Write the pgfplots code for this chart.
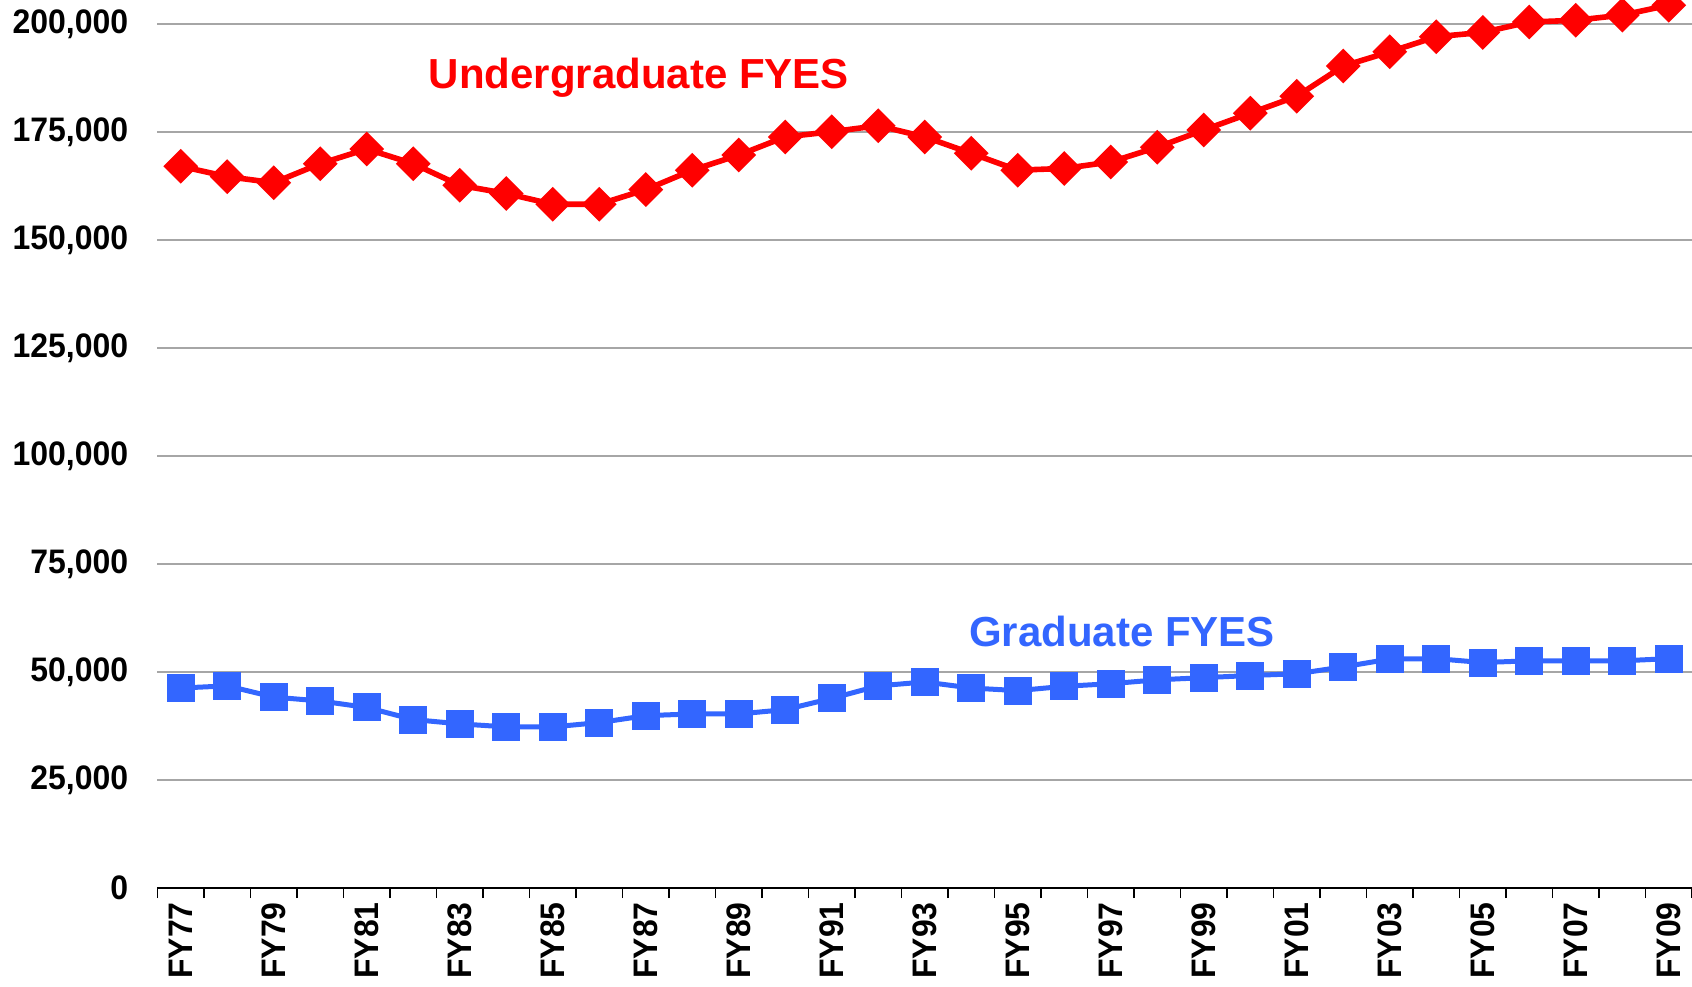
\documentclass[border=0pt]{standalone}
\usepackage{fontspec}
\setmainfont{Liberation Sans}
\newfontfamily\tickfont[FakeStretch=0.94]{Liberation Sans}
\usepackage{pgfplots}
\pgfplotsset{compat=1.18}

\definecolor{ugred}{RGB}{255,0,0}
\definecolor{grblue}{RGB}{51,102,255}
\definecolor{gridgray}{RGB}{166,166,166}

\begin{document}
\begin{tikzpicture}
\begin{axis}[
  scale only axis,
  width=767.25pt,
  height=444pt,
  xmin=-0.5, xmax=32.5,
  ymin=0, ymax=205600,
  axis x line*=bottom,
  axis y line*=left,
  x axis line style={black, line width=1pt},
  y axis line style={draw=none},
  xtick={0,2,...,32},
  xticklabels={FY77,FY79,FY81,FY83,FY85,FY87,FY89,FY91,FY93,FY95,FY97,FY99,FY01,FY03,FY05,FY07,FY09},
  minor xtick={-0.5,0.5,...,32.5},
  tick align=outside,
  major tick length=0pt,
  minor tick length=5pt,
  minor x tick style={black, line width=0.8pt},
  major x tick style={draw=none},
  ytick={0,25000,50000,75000,100000,125000,150000,175000,200000},
  yticklabels={0,{25,000},{50,000},{75,000},{100,000},{125,000},{150,000},{175,000},{200,000}},
  major y tick style={draw=none},
  ymajorgrids=true,
  grid style={gridgray, line width=0.9pt},
  yticklabel style={font=\tickfont\bfseries\fontsize{17}{19}\selectfont, anchor=east, inner sep=0pt},
  yticklabel shift=14.5pt,
  xticklabel style={font=\tickfont\bfseries\fontsize{17}{19}\selectfont, rotate=90, anchor=east, inner sep=0pt},
  xticklabel shift=7pt,
]
\addplot[color=ugred, line width=2.8pt, mark=square*, mark size=4.75pt, mark options={rotate=45, solid}] coordinates {
  (0,167100) (1,164700) (2,163300) (3,167700) (4,171100) (5,167700) (6,162700)
  (7,160800) (8,158300) (9,158300) (10,161700) (11,166200) (12,169700) (13,173900)
  (14,175100) (15,176500) (16,173900) (17,170100) (18,166200) (19,166600) (20,168100)
  (21,171500) (22,175500) (23,179400) (24,183300) (25,190300) (26,193600) (27,197100)
  (28,198100) (29,200500) (30,200900) (31,202100) (32,204400)
};
\addplot[color=grblue, line width=2.5pt, mark=square*, mark size=5.75pt, mark options={solid}] coordinates {
  (0,46300) (1,46800) (2,44200) (3,43300) (4,41800) (5,39000) (6,38000)
  (7,37300) (8,37300) (9,38300) (10,39900) (11,40300) (12,40300) (13,41300)
  (14,43900) (15,46800) (16,47700) (17,46300) (18,45700) (19,46700) (20,47300)
  (21,48200) (22,48700) (23,49200) (24,49600) (25,51200) (26,53000) (27,53100)
  (28,52200) (29,52600) (30,52600) (31,52600) (32,53100)
};
\node[text=ugred, font=\bfseries\fontsize{21}{24}\selectfont] at (axis cs:9.85,187500) {Undergraduate FYES};
\node[text=grblue, font=\bfseries\fontsize{21}{24}\selectfont] at (axis cs:20.24,59500) {Graduate FYES};
\end{axis}
\pgfresetboundingbox
\path ([shift={(-78.75pt,-49pt)}]current axis.south west) rectangle (current axis.north east);
\end{tikzpicture}
\end{document}
